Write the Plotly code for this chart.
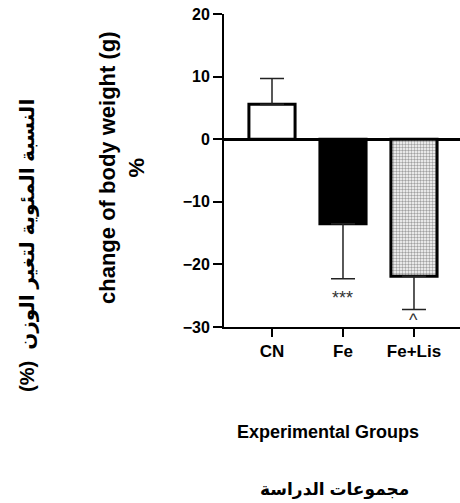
import plotly.graph_objects as go

groups = ["CN", "Fe", "Fe+Lis"]
means = [5.6, -13.5, -21.9]
err_up = [4.1, 0.0, 0.0]
err_down = [0.0, 8.8, 5.3]
sig_labels = ["", "***", "^"]
sig_y = [None, -25.4, -28.9]
y_ticks = [20, 10, 0, -10, -20, -30]

FONT = "Liberation Sans, Arial, DejaVu Sans, sans-serif"

fig = go.Figure()
fig.add_trace(go.Bar(
    x=groups, y=means, width=0.65,
    marker=dict(
        color=["white", "black", "white"],
        line=dict(color="black", width=3),
        pattern=dict(shape=["", "", "."], fgcolor="#444444", bgcolor="#d8d8d8",
                     size=3, solidity=0.5),
    ),
    error_y=dict(type="data", symmetric=False, array=err_up, arrayminus=err_down,
                 color="#222222", thickness=1.5, width=12),
    showlegend=False,
))

for g, lab, yy in zip(groups, sig_labels, sig_y):
    if lab:
        fig.add_annotation(x=g, y=yy, text=lab, showarrow=False,
                           font=dict(family=FONT, size=18, color="#333333"))

# y-axis titles
fig.add_annotation(xref="paper", yref="paper", x=(122 - 224) / 236, y=(327 - 168) / 313,
                   text="<b>change of body weight (g)<br>%</b>", textangle=-90,
                   showarrow=False, xanchor="center", yanchor="middle",
                   font=dict(family=FONT, size=22, color="black"))
fig.add_annotation(xref="paper", yref="paper", x=(27 - 224) / 236, y=(327 - 246) / 313,
                   text="<b>(%)  النسبة المئوية لتغير الوزن</b>", textangle=-90,
                   showarrow=False, xanchor="center", yanchor="middle",
                   font=dict(family=FONT, size=20, color="black"))
# x-axis titles
fig.add_annotation(xref="paper", yref="paper", x=(328 - 224) / 236, y=0, yshift=-105,
                   text="<b>Experimental Groups</b>", showarrow=False,
                   xanchor="center", yanchor="middle",
                   font=dict(family=FONT, size=18, color="black"))
fig.add_annotation(xref="paper", yref="paper", x=(334 - 224) / 236, y=0, yshift=-163,
                   text="<b>مجموعات الدراسة</b>", showarrow=False,
                   xanchor="center", yanchor="middle",
                   font=dict(family=FONT, size=17, color="black"))

fig.update_layout(
    width=460, height=503,
    margin=dict(l=224, r=0, t=14, b=176),
    plot_bgcolor="white", paper_bgcolor="white",
    font=dict(family=FONT, color="black"),
)
fig.update_xaxes(
    range=[-0.676, 2.648], showline=True, linecolor="black", linewidth=2,
    ticks="outside", ticklen=8, tickwidth=2, tickcolor="black",
    tickfont=dict(family=FONT, size=17, color="black", weight="bold"),
    showgrid=False, zeroline=False,
)
fig.update_yaxes(
    range=[-30, 20], tickvals=y_ticks, showline=True, linecolor="black", linewidth=2,
    ticks="outside", ticklen=9, tickwidth=2, tickcolor="black",
    tickfont=dict(family=FONT, size=16, color="black", weight="bold"),
    showgrid=False, zeroline=True, zerolinecolor="black", zerolinewidth=3,
)

fig.write_html("out.html", config={"displayModeBar": False},
               post_script="document.body.style.margin='0';document.body.style.overflow='hidden';")
